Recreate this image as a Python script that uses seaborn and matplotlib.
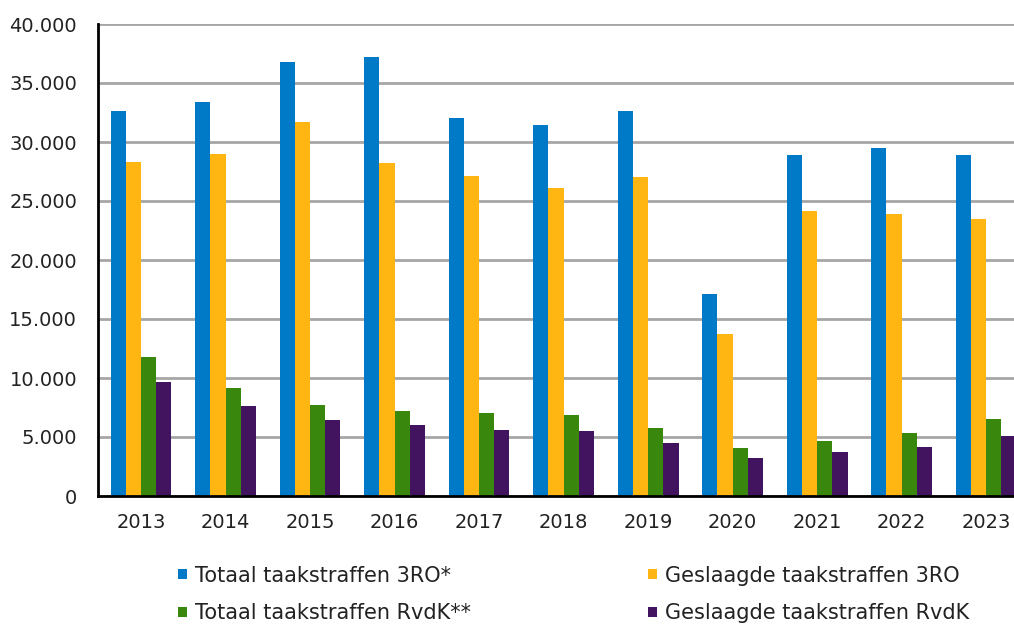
import matplotlib.pyplot as plt
import matplotlib.ticker as mticker
import pandas as pd
import seaborn as sns

# Values
years = ['2013', '2014', '2015', '2016', '2017', '2018', '2019', '2020', '2021', '2022', '2023']
totaal_3ro = [32600, 33400, 36800, 37200, 32000, 31400, 32600, 17100, 28900, 29450, 28900]
geslaagd_3ro = [28300, 29000, 31700, 28200, 27100, 26100, 27000, 13700, 24150, 23900, 23500]
totaal_rvdk = [11750, 9150, 7750, 7200, 7000, 6860, 5800, 4040, 4700, 5340, 6550]
geslaagd_rvdk = [9700, 7650, 6450, 6000, 5600, 5500, 4500, 3200, 3730, 4150, 5060]

series = ['Totaal taakstraffen 3RO*', 'Geslaagde taakstraffen 3RO',
          'Totaal taakstraffen RvdK**', 'Geslaagde taakstraffen RvdK']
colors = ['#0079C6', '#FFB612', '#39870C', '#42145F']

df = pd.concat([
    pd.DataFrame({'jaar': years, 'serie': name, 'aantal': vals})
    for name, vals in zip(series, [totaal_3ro, geslaagd_3ro, totaal_rvdk, geslaagd_rvdk])
])

sns.set_style('white')
plt.rcParams['font.family'] = ['DejaVu Sans']

fig = plt.figure(figsize=(10.14, 6.25), dpi=100)
ax = fig.add_axes([0.0966, 0.2064, 0.9034, 0.7552])

sns.barplot(data=df, x='jaar', y='aantal', hue='serie', palette=colors,
            width=0.72, gap=0, saturation=1, linewidth=0, ax=ax, legend=True)

handles, labels = ax.get_legend_handles_labels()
ax.get_legend().remove()
# legend fills row by row in the original
order = [0, 2, 1, 3]
handles = [handles[i] for i in order]
labels = [labels[i] for i in order]

ax.set_ylim(0, 40000)
ax.set_xlim(-0.51, 10.33)
ax.yaxis.set_major_locator(mticker.MultipleLocator(5000))
ax.yaxis.set_major_formatter(mticker.FuncFormatter(lambda v, p: f'{int(v):,}'.replace(',', '.')))
ax.yaxis.grid(True, color='#A6A6A6', linewidth=2)
ax.set_axisbelow(True)
ax.set_xlabel('')
ax.set_ylabel('')

for side in ['top', 'right']:
    ax.spines[side].set_visible(False)
for side in ['left', 'bottom']:
    ax.spines[side].set_color('black')
    ax.spines[side].set_linewidth(2)

ax.tick_params(axis='both', length=0, labelsize=14, labelcolor='#222222')
ax.tick_params(axis='y', pad=15)
ax.tick_params(axis='x', pad=12)

fig.legend(handles, labels, ncol=2, loc='upper left', bbox_to_anchor=(0.176, 0.095),
           frameon=False, fontsize=15, handlelength=0.4, handleheight=0.4,
           handletextpad=0.4, columnspacing=8.5, labelspacing=0.85,
           labelcolor='#222222', borderpad=0, borderaxespad=0)

fig.savefig('out.png', dpi=100)
